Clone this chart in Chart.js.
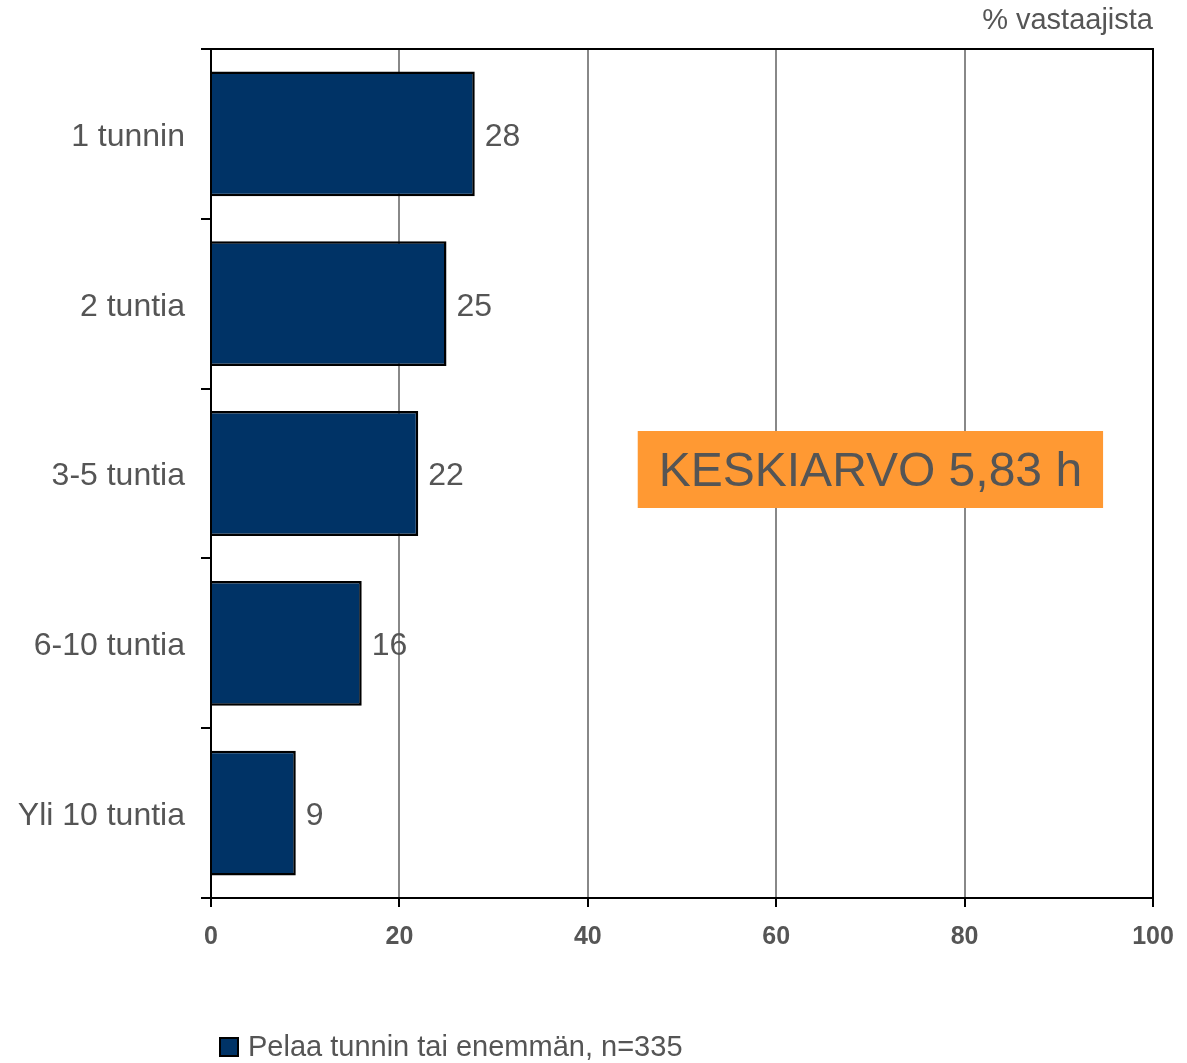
<!DOCTYPE html>
<html><head><meta charset="utf-8">
<script src="https://cdn.jsdelivr.net/npm/chart.js@4.4.1/dist/chart.umd.min.js"></script>
<style>html,body{margin:0;padding:0;background:#fff}#wrap{width:1187px;height:1063px}</style>
</head><body><div id="wrap"><canvas id="c" width="1187" height="1063"></canvas></div>
<script>
const categories = ['1 tunnin', '2 tuntia', '3-5 tuntia', '6-10 tuntia', 'Yli 10 tuntia'];
const values = [28, 25, 22, 16, 9];
const seriesLabel = 'Pelaa tunnin tai enemmän, n=335';
const xTicks = [0, 20, 40, 60, 80, 100];
const axisTitle = '% vastaajista';
const noteText = 'KESKIARVO 5,83 h';
const noteX = 70;
const noteCategory = '3-5 tuntia';

const FONT = '"Liberation Sans", Arial, sans-serif';
const TEXT = '#555555';
const BAR = '#003366';

const extras = {
  id: 'extras',
  afterDatasetsDraw(chart) {
    const ctx = chart.ctx;
    const meta = chart.getDatasetMeta(0);
    ctx.save();
    ctx.font = '32px ' + FONT;
    ctx.fillStyle = TEXT;
    ctx.textAlign = 'left';
    ctx.textBaseline = 'middle';
    meta.data.forEach((bar, i) => {
      ctx.fillText(String(values[i]), bar.x + 10, bar.y + 3);
    });
    // note box
    const xs = chart.scales.x, ys = chart.scales.y;
    const cx = xs.getPixelForValue(noteX);
    const cy = ys.getPixelForValue(categories.indexOf(noteCategory));
    ctx.font = '48px ' + FONT;
    const tw = ctx.measureText(noteText).width;
    const bw = tw + 42, bh = 77;
    ctx.fillStyle = '#FF9933';
    ctx.fillRect(cx - bw / 2, cy - bh / 2 - 4, bw, bh);
    ctx.fillStyle = TEXT;
    ctx.textAlign = 'center';
    ctx.fillText(noteText, cx, cy - 1);
    ctx.restore();
  },
  afterDraw(chart) {
    const ctx = chart.ctx;
    const a = chart.chartArea;
    ctx.save();
    // top frame line
    ctx.strokeStyle = '#000';
    ctx.lineWidth = 2;
    ctx.beginPath();
    ctx.moveTo(a.left, a.top);
    ctx.lineTo(a.right + 1, a.top);
    ctx.stroke();
    // axis title
    ctx.font = '29px ' + FONT;
    ctx.fillStyle = TEXT;
    ctx.textAlign = 'right';
    ctx.textBaseline = 'middle';
    ctx.fillText(axisTitle, a.right, 21);
    // legend
    const ds = chart.data.datasets[0];
    ctx.fillStyle = ds.backgroundColor;
    ctx.fillRect(220, 1038, 18, 18);
    ctx.strokeStyle = '#000';
    ctx.lineWidth = 2;
    ctx.strokeRect(220, 1038, 18, 18);
    ctx.font = '29px ' + FONT;
    ctx.fillStyle = TEXT;
    ctx.textAlign = 'left';
    ctx.fillText(ds.label, 248, 1048);
    ctx.restore();
  }
};

new Chart(document.getElementById('c'), {
  type: 'bar',
  data: {
    labels: categories,
    datasets: [{
      label: seriesLabel,
      data: values,
      backgroundColor: BAR,
      borderColor: '#000',
      borderWidth: 2.5,
      categoryPercentage: 0.735,
      barPercentage: 1
    }]
  },
  options: {
    indexAxis: 'y',
    responsive: false,
    devicePixelRatio: 1,
    animation: false,
    layout: { padding: { top: 49, right: 34, left: 0, bottom: 0 } },
    plugins: { legend: { display: false }, tooltip: { enabled: false } },
    scales: {
      x: {
        type: 'linear',
        min: xTicks[0],
        max: xTicks[xTicks.length - 1],
        afterBuildTicks: (s) => { s.ticks = xTicks.map(v => ({ value: v })); },
        ticks: { font: { family: FONT, size: 25, weight: 'bold' }, color: TEXT, padding: 15 },
        grid: {
          color: (c) => (c.tick && c.tick.value === 100 ? '#000' : '#888'),
          lineWidth: 2,
          tickColor: '#000',
          tickLength: 9
        },
        border: { color: '#000', width: 2 },
        afterFit: (s) => { s.height = 165; s.paddingRight = 0; s.paddingLeft = 0; }
      },
      y: {
        type: 'category',
        ticks: { font: { family: FONT, size: 32 }, color: TEXT, padding: 16, labelOffset: 3 },
        grid: {
          offset: true,
          drawOnChartArea: false,
          tickLength: 10,
          tickColor: '#000',
          lineWidth: 2
        },
        border: { color: '#000', width: 2 },
        afterFit: (s) => { s.width = 211; s.paddingTop = 0; s.paddingBottom = 0; }
      }
    }
  },
  plugins: [extras]
});
</script>
</body></html>
